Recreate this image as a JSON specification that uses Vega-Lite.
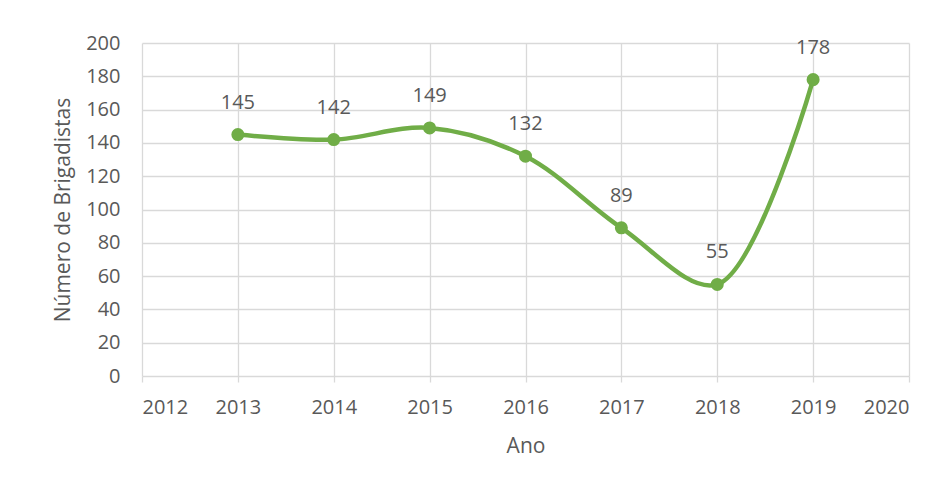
{
  "$schema": "https://vega.github.io/schema/vega-lite/v6.json",
  "autosize": "none",
  "width": 767,
  "height": 333,
  "padding": {"left": 142, "top": 43, "right": 41, "bottom": 110},
  "background": "white",
  "config": {
    "view": {"stroke": null},
    "font": "Open Sans",
    "axis": {
      "gridColor": "#D9D9D9",
      "gridWidth": 1.3,
      "labelColor": "#595959",
      "titleColor": "#595959",
      "labelFont": "Open Sans",
      "titleFont": "Open Sans",
      "labelFontSize": 20,
      "titleFontSize": 21,
      "titleFontWeight": "normal",
      "domain": false
    }
  },
  "data": {
    "values": [
      {"ano": 2013, "n": 145},
      {"ano": 2014, "n": 142},
      {"ano": 2015, "n": 149},
      {"ano": 2016, "n": 132},
      {"ano": 2017, "n": 89},
      {"ano": 2018, "n": 55},
      {"ano": 2019, "n": 178}
    ]
  },
  "encoding": {
    "x": {
      "field": "ano",
      "type": "quantitative",
      "scale": {"domain": [2012, 2020], "nice": false, "zero": false},
      "axis": {
        "title": "Ano",
        "values": [2012, 2013, 2014, 2015, 2016, 2017, 2018, 2019, 2020],
        "format": "d",
        "ticks": true,
        "tickColor": "#D9D9D9",
        "tickWidth": 1.3,
        "tickSize": 6,
        "labelPadding": 15,
        "titlePadding": 18
      }
    },
    "y": {
      "field": "n",
      "type": "quantitative",
      "scale": {"domain": [0, 200], "nice": false},
      "axis": {
        "title": "Número de Brigadistas",
        "values": [0, 20, 40, 60, 80, 100, 120, 140, 160, 180, 200],
        "ticks": false,
        "labelPadding": 22,
        "titlePadding": 12
      }
    }
  },
  "layer": [
    {
      "mark": {"type": "line", "color": "#70AD47", "strokeWidth": 4.5, "interpolate": "catmull-rom"}
    },
    {
      "mark": {"type": "point", "filled": true, "color": "#70AD47", "size": 170, "opacity": 1}
    },
    {
      "mark": {"type": "text", "dy": -32, "baseline": "middle", "fontSize": 20, "color": "#595959", "font": "Open Sans"},
      "encoding": {"text": {"field": "n", "type": "quantitative"}}
    }
  ]
}
